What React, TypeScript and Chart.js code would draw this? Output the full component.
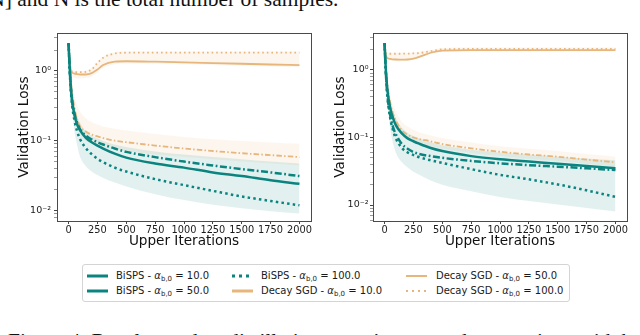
import React, { useEffect, useRef } from "react";
import { Chart, registerables } from "chart.js";
Chart.register(...registerables);

// ---------- data ----------
const ITERS = [0, 10, 25, 50, 75, 100, 150, 200, 250, 300, 400, 500, 750, 1000, 1250, 1500, 1750, 2000];
const X_TICKS = [0, 250, 500, 750, 1000, 1250, 1500, 1750, 2000];
const Y_MAJOR = [0.01, 0.1, 1];
const Y_MAJOR_LABELS = ["10\u207B\u00B2", "10\u207B\u00B9", "10\u2070"];
const Y_MINOR = [0.006, 0.007, 0.008, 0.009, 0.02, 0.03, 0.04, 0.05, 0.06, 0.07, 0.08, 0.09, 0.2, 0.3, 0.4, 0.5, 0.6, 0.7, 0.8, 0.9, 2, 3];

const METHODS = ["BiSPS", "Decay SGD"];
const ALPHAS = [10.0, 50.0, 100.0];

// left panel
const L_BISPS_10 = [2.5, 1.1, 0.45, 0.24, 0.17, 0.14, 0.11, 0.095, 0.085, 0.077, 0.065, 0.057, 0.047, 0.041, 0.035, 0.031, 0.027, 0.024];
const L_BISPS_50 = [2.5, 1.1, 0.46, 0.25, 0.18, 0.145, 0.118, 0.104, 0.095, 0.088, 0.077, 0.069, 0.058, 0.05, 0.044, 0.039, 0.035, 0.031];
const L_BISPS_100 = [2.5, 1.0, 0.4, 0.2, 0.135, 0.105, 0.078, 0.064, 0.055, 0.049, 0.041, 0.036, 0.028, 0.023, 0.019, 0.0158, 0.0136, 0.0118];
const L_SGD_10 = [2.5, 1.4, 0.98, 0.92, 0.9, 0.89, 0.89, 0.93, 1.05, 1.22, 1.36, 1.38, 1.36, 1.33, 1.3, 1.27, 1.24, 1.21];
const L_SGD_50 = [2.5, 1.3, 0.6, 0.3, 0.2, 0.16, 0.135, 0.122, 0.115, 0.109, 0.1, 0.095, 0.085, 0.077, 0.071, 0.066, 0.062, 0.058];
const L_SGD_100 = [2.5, 1.3, 1.0, 0.97, 0.96, 0.96, 0.97, 1.05, 1.3, 1.55, 1.78, 1.83, 1.84, 1.84, 1.84, 1.84, 1.84, 1.84];
const L_TEAL_LO = [2.4, 0.8, 0.35, 0.14, 0.085, 0.058, 0.043, 0.036, 0.032, 0.029, 0.025, 0.022, 0.017, 0.014, 0.012, 0.0107, 0.0097, 0.009];
const L_TEAL_HI = [2.6, 1.4, 0.7, 0.34, 0.23, 0.18, 0.135, 0.118, 0.107, 0.099, 0.088, 0.081, 0.07, 0.063, 0.058, 0.054, 0.05, 0.047];
const L_TAN_LO = [2.4, 1.0, 0.45, 0.22, 0.15, 0.12, 0.1, 0.09, 0.085, 0.08, 0.075, 0.071, 0.063, 0.058, 0.054, 0.05, 0.047, 0.044];
const L_TAN_HI = [2.6, 1.6, 0.85, 0.45, 0.32, 0.26, 0.21, 0.185, 0.17, 0.16, 0.148, 0.14, 0.125, 0.113, 0.105, 0.099, 0.094, 0.09];
const L_TOP_LO = [2.4, 1.2, 0.85, 0.8, 0.78, 0.78, 0.79, 0.83, 0.95, 1.1, 1.25, 1.28, 1.27, 1.25, 1.22, 1.19, 1.16, 1.13];
const L_TOP_HI = [2.6, 1.5, 1.05, 1.0, 1.0, 1.0, 1.02, 1.1, 1.35, 1.6, 1.85, 1.9, 1.9, 1.9, 1.9, 1.9, 1.9, 1.9];

// right panel
const R_BISPS_10 = [2.5, 1.1, 0.5, 0.27, 0.19, 0.15, 0.115, 0.097, 0.088, 0.081, 0.07, 0.063, 0.053, 0.0475, 0.044, 0.041, 0.038, 0.035];
const R_BISPS_50 = [2.5, 1.0, 0.42, 0.21, 0.14, 0.11, 0.08, 0.068, 0.061, 0.057, 0.053, 0.05, 0.045, 0.0415, 0.039, 0.037, 0.035, 0.033];
const R_BISPS_100 = [2.5, 1.0, 0.4, 0.19, 0.125, 0.095, 0.07, 0.06, 0.055, 0.051, 0.046, 0.042, 0.034, 0.028, 0.024, 0.0202, 0.0165, 0.0132];
const R_SGD_10 = [2.5, 1.7, 1.5, 1.46, 1.44, 1.43, 1.42, 1.43, 1.47, 1.56, 1.8, 1.93, 1.97, 1.97, 1.97, 1.97, 1.97, 1.97];
const R_SGD_50 = [2.5, 1.2, 0.6, 0.32, 0.22, 0.175, 0.127, 0.11, 0.1, 0.095, 0.088, 0.08, 0.069, 0.0615, 0.056, 0.052, 0.047, 0.043];
const R_SGD_100 = [2.5, 1.8, 1.75, 1.74, 1.74, 1.74, 1.74, 1.75, 1.76, 1.78, 1.9, 2.02, 2.05, 2.05, 2.05, 2.05, 2.05, 2.05];
const R_TEAL_LO = [2.4, 0.8, 0.33, 0.13, 0.08, 0.058, 0.043, 0.036, 0.031, 0.028, 0.023, 0.02, 0.016, 0.0132, 0.0115, 0.0102, 0.009, 0.008];
const R_TEAL_HI = [2.6, 1.4, 0.7, 0.36, 0.25, 0.19, 0.14, 0.118, 0.105, 0.097, 0.085, 0.077, 0.066, 0.06, 0.056, 0.052, 0.049, 0.046];
const R_TAN_LO = [2.4, 1.0, 0.45, 0.24, 0.17, 0.14, 0.108, 0.094, 0.086, 0.081, 0.074, 0.068, 0.059, 0.053, 0.048, 0.045, 0.041, 0.037];
const R_TAN_HI = [2.6, 1.5, 0.8, 0.43, 0.3, 0.24, 0.17, 0.145, 0.13, 0.12, 0.107, 0.098, 0.084, 0.074, 0.068, 0.063, 0.057, 0.052];
const R_TOP_LO = [2.4, 1.55, 1.4, 1.37, 1.35, 1.35, 1.35, 1.37, 1.42, 1.5, 1.75, 1.86, 1.88, 1.88, 1.88, 1.88, 1.88, 1.88];
const R_TOP_HI = [2.6, 1.9, 1.82, 1.8, 1.8, 1.8, 1.8, 1.8, 1.82, 1.85, 1.98, 2.12, 2.15, 2.15, 2.15, 2.15, 2.15, 2.15];

// ---------- styles ----------
const TEAL = "#0b847f";
const TAN = "#e6b67c";
const TEAL_BAND = "rgba(20,140,135,0.12)";
const TAN_BAND = "rgba(232,185,127,0.12)";
const FONT = "'DejaVu Sans', sans-serif";

type LineStyle = { color: string; width: number; dash: number[]; legendDash: number[]; legendWidth: number };
const STYLES: LineStyle[] = [
  { color: TEAL, width: 2.5, dash: [], legendDash: [], legendWidth: 3 },
  { color: TEAL, width: 2.5, dash: [7, 2.5, 1.8, 2.5], legendDash: [], legendWidth: 3 },
  { color: TEAL, width: 2.5, dash: [2.5, 3.2], legendDash: [3, 4], legendWidth: 3 },
  { color: TAN, width: 1.8, dash: [], legendDash: [], legendWidth: 3 },
  { color: TAN, width: 1.8, dash: [5.5, 2.2, 1.5, 2.2], legendDash: [], legendWidth: 2 },
  { color: TAN, width: 1.8, dash: [1.6, 3], legendDash: [2, 4], legendWidth: 1.8 },
];

function pts(ys: number[]) {
  return ITERS.map((x, i) => ({ x, y: ys[i] }));
}

function lineDs(label: string, ys: number[], s: LineStyle) {
  return {
    label,
    data: pts(ys),
    borderColor: s.color,
    borderWidth: s.width,
    borderDash: s.dash,
    borderCapStyle: "butt",
    pointRadius: 0,
    fill: false,
    cubicInterpolationMode: "monotone",
  };
}

function bandDs(lo: number[], hi: number[], color: string, loIndex: number) {
  return [
    {
      label: "lo",
      data: pts(lo),
      borderColor: "rgba(0,0,0,0)",
      borderWidth: 0,
      pointRadius: 0,
      fill: false,
      cubicInterpolationMode: "monotone",
    },
    {
      label: "hi",
      data: pts(hi),
      borderColor: "rgba(0,0,0,0)",
      borderWidth: 0,
      pointRadius: 0,
      backgroundColor: color,
      fill: { target: loIndex },
      cubicInterpolationMode: "monotone",
    },
  ];
}

type PanelSpec = {
  series: number[][];
  bands: [number[], number[], string][];
  yMin: number;
  yMax: number;
  areaLeft: number;
  areaRight: number;
  yTitlePad: number;
  yTickPad: number;
};

const frame = {
  id: "frame",
  afterDraw(chart: any) {
    const { ctx, chartArea: a } = chart;
    ctx.save();
    ctx.strokeStyle = "#4a4a4a";
    ctx.lineWidth = 1;
    ctx.strokeRect(Math.round(a.left) + 0.5, Math.round(a.top) + 0.5, Math.round(a.right - a.left), Math.round(a.bottom - a.top));
    ctx.restore();
  },
};

const W = 320;
const H = 260;
const AREA_TOP = 33;
const AREA_BOTTOM = 221;

function Panel({ left, spec }: { left: number; spec: PanelSpec }) {
  const ref = useRef<HTMLCanvasElement>(null);
  useEffect(() => {
    const labels: string[] = [];
    METHODS.forEach((m) => ALPHAS.forEach((a) => labels.push(`${m} - alpha ${a.toFixed(1)}`)));
    const datasets: any[] = spec.series.map((ys, i) => lineDs(labels[i], ys, STYLES[i]));
    spec.bands.forEach(([lo, hi, c]) => {
      const idx = datasets.length;
      datasets.push(...bandDs(lo, hi, c, idx));
    });
    const majorSet = new Set(Y_MAJOR);
    const chart = new Chart(ref.current as HTMLCanvasElement, {
      type: "line",
      data: { datasets },
      plugins: [frame],
      options: {
        animation: false,
        responsive: false,
        devicePixelRatio: 1,
        layout: { padding: { left: 0, top: AREA_TOP, right: W - spec.areaRight, bottom: 0 } },
        plugins: { legend: { display: false }, tooltip: { enabled: false } },
        scales: {
          x: {
            type: "linear",
            min: -100,
            max: 2100,
            afterBuildTicks: (s: any) => {
              s.ticks = X_TICKS.map((v) => ({ value: v }));
            },
            afterFit: (s: any) => {
              s.height = H - AREA_BOTTOM;
            },
            ticks: {
              autoSkip: false,
              maxRotation: 0,
              padding: 1,
              color: "#1a1a1a",
              font: { family: FONT, size: 9.8 },
              callback: (v: any) => String(v),
            },
            grid: { display: true, drawOnChartArea: false, drawTicks: true, tickLength: 3, color: "#444", lineWidth: 1 },
            border: { display: false },
            title: {
              display: true,
              text: "Upper Iterations",
              color: "#111",
              font: { family: FONT, size: 13.6 },
              padding: { top: 0, bottom: 10 },
            },
          },
          y: {
            type: "logarithmic",
            min: spec.yMin,
            max: spec.yMax,
            afterBuildTicks: (s: any) => {
              const vals = [...Y_MAJOR, ...Y_MINOR].filter((v) => v >= spec.yMin && v <= spec.yMax).sort((a, b) => a - b);
              s.ticks = vals.map((v) => ({ value: v, major: majorSet.has(v) }));
            },
            afterFit: (s: any) => {
              s.width = spec.areaLeft;
            },
            ticks: {
              autoSkip: false,
              padding: spec.yTickPad,
              color: "#1a1a1a",
              font: { family: FONT, size: 9.5 },
              callback: (v: any) => {
                const i = Y_MAJOR.indexOf(Number(v));
                return i >= 0 ? Y_MAJOR_LABELS[i] : "";
              },
            },
            grid: {
              display: true,
              drawOnChartArea: false,
              drawTicks: true,
              tickLength: 3,
              lineWidth: 1,
              color: (c: any) => (c.tick && majorSet.has(c.tick.value) ? "#444" : "#9a9a9a"),
            },
            border: { display: false },
            title: {
              display: true,
              text: "Validation Loss",
              color: "#111",
              font: { family: FONT, size: 13.6 },
              padding: { top: spec.yTitlePad, bottom: 0 },
            },
          },
        },
      } as any,
    });
    return () => chart.destroy();
  }, []);
  return (
    <div style={{ position: "absolute", left, top: 0, width: W, height: H }}>
      <canvas ref={ref} width={W} height={H} style={{ width: W, height: H, display: "block" }} />
    </div>
  );
}

const LEFT_SPEC: PanelSpec = {
  series: [L_BISPS_10, L_BISPS_50, L_BISPS_100, L_SGD_10, L_SGD_50, L_SGD_100],
  bands: [
    [L_TEAL_LO, L_TEAL_HI, TEAL_BAND],
    [L_TAN_LO, L_TAN_HI, TAN_BAND],
    [L_TOP_LO, L_TOP_HI, TAN_BAND],
  ],
  yMin: 0.00702,
  yMax: 3.51,
  areaLeft: 57,
  areaRight: 311,
  yTitlePad: 16.8,
  yTickPad: 3,
};

const RIGHT_SPEC: PanelSpec = {
  series: [R_BISPS_10, R_BISPS_50, R_BISPS_100, R_SGD_10, R_SGD_50, R_SGD_100],
  bands: [
    [R_TEAL_LO, R_TEAL_HI, TEAL_BAND],
    [R_TAN_LO, R_TAN_HI, TAN_BAND],
    [R_TOP_LO, R_TOP_HI, TAN_BAND],
  ],
  yMin: 0.0058,
  yMax: 3.53,
  areaLeft: 53,
  areaRight: 307,
  yTitlePad: 12.8,
  yTickPad: 1.5,
};

// legend layout (column-major like matplotlib, 3 columns x 2 rows)
const LEG_COL_HANDLE_X = [4, 149, 323];
const LEG_COL_TEXT_X = [33, 178, 353];
const LEG_ROW_Y = [10.5, 26];
const HANDLE_LEN = 21;

function LegendEntry({ idx }: { idx: number }) {
  const col = Math.floor(idx / 2);
  const row = idx % 2;
  const method = METHODS[Math.floor(idx / 3)];
  const alpha = ALPHAS[idx % 3];
  const s = STYLES[idx];
  const y = LEG_ROW_Y[row];
  return (
    <>
      <svg
        style={{ position: "absolute", left: LEG_COL_HANDLE_X[col], top: y - 3, overflow: "visible" }}
        width={HANDLE_LEN}
        height={6}
      >
        <line
          x1={0}
          y1={3}
          x2={HANDLE_LEN}
          y2={3}
          stroke={s.color}
          strokeWidth={s.legendWidth}
          strokeDasharray={s.legendDash.length ? s.legendDash.join(" ") : undefined}
        />
      </svg>
      <span
        style={{
          position: "absolute",
          left: LEG_COL_TEXT_X[col],
          top: y - 7,
          fontFamily: FONT,
          fontSize: 10,
          lineHeight: "14px",
          whiteSpace: "nowrap",
          color: "#1a1a1a",
        }}
      >
        {method} - <i>α</i>
        <span style={{ fontSize: 7, position: "relative", top: 2 }}>b,0</span> = {alpha.toFixed(1)}
      </span>
    </>
  );
}

export default function App() {
  const order = [0, 1, 2, 3, 4, 5];
  return (
    <div
      style={{
        position: "fixed",
        left: 0,
        top: 0,
        width: 640,
        height: 335,
        overflow: "hidden",
        background: "#fff",
      }}
    >
      <div
        style={{
          position: "absolute",
          left: -18,
          top: -11,
          fontFamily: "'Liberation Serif', 'Times New Roman', serif",
          fontSize: 21.5,
          lineHeight: "21.5px",
          whiteSpace: "nowrap",
          color: "#111",
        }}
      >
        [N] and N is the total number of samples.
      </div>
      <Panel left={0} spec={LEFT_SPEC} />
      <Panel left={320} spec={RIGHT_SPEC} />
      <div
        style={{
          position: "absolute",
          left: 82,
          top: 264,
          width: 488,
          height: 38,
          boxSizing: "border-box",
          border: "1px solid #d4d4d4",
          borderRadius: 3,
          background: "#fff",
        }}
      >
        {order.map((i) => (
          <LegendEntry key={i} idx={i} />
        ))}
      </div>
      <div
        style={{
          position: "absolute",
          left: 8,
          top: 330.5,
          fontFamily: "'Liberation Serif', 'Times New Roman', serif",
          fontSize: 21.5,
          lineHeight: "21.5px",
          whiteSpace: "nowrap",
          color: "#111",
        }}
      >
        Figure 4: Results on data distillation experiments and comparison with baselines.
      </div>
    </div>
  );
}
